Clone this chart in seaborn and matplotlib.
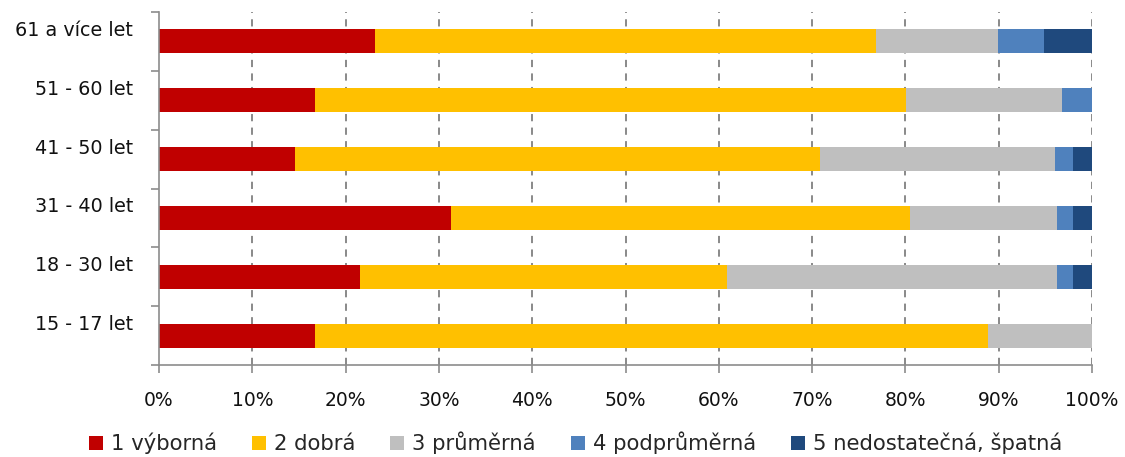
import numpy as np
import pandas as pd
import matplotlib
matplotlib.use("Agg")
import matplotlib.pyplot as plt
import matplotlib.transforms as mtransforms
from matplotlib.patches import Patch
import seaborn as sns

categories = ["61 a více let", "51 - 60 let", "41 - 50 let", "31 - 40 let", "18 - 30 let", "15 - 17 let"]
series_names = ["1 výborná", "2 dobrá", "3 průměrná", "4 podprůměrná", "5 nedostatečná, špatná"]
s1 = [23.1, 16.7, 14.6, 31.3, 21.5, 16.7]
s2 = [53.8, 63.4, 56.3, 49.2, 39.4, 72.2]
s3 = [13.0, 16.7, 25.1, 15.7, 35.3, 11.1]
s4 = [5.0, 3.2, 2.0, 1.8, 1.8, 0.0]
s5 = [5.1, 0.0, 2.0, 2.0, 2.0, 0.0]
colors = ["#C00000", "#FFC000", "#BFBFBF", "#4F81BD", "#1F497D"]
xticks = [0, 10, 20, 30, 40, 50, 60, 70, 80, 90, 100]
xticklabels = [f"{v}%" for v in xticks]

sns.set_theme(style="white")
plt.rcParams['font.family'] = ['DejaVu Sans']

data = np.array([s1, s2, s3, s4, s5], dtype=float)
totals = data.sum(axis=0)
pct = data / totals * 100
cum = np.cumsum(pct, axis=0)

fig = plt.figure(figsize=(11.25, 4.57), dpi=100)
ax = fig.add_axes([159/1125, 1 - 365/457, (1092 - 159)/1125, (365 - 12)/457])

for i in range(len(series_names) - 1, -1, -1):
    df = pd.DataFrame({"cat": categories, "val": cum[i]})
    sns.barplot(data=df, x="val", y="cat", order=categories, color=colors[i],
                width=0.41, ax=ax, orient="h", saturation=1, linewidth=0, zorder=3)

ax.set_xlim(0, 100)
ax.set_ylim(len(categories) - 0.5, -0.5)
ax.set_xlabel("")
ax.set_ylabel("")

ax.set_xticks(xticks)
ax.set_xticklabels(xticklabels, fontsize=13.5, color="#111111")
ax.tick_params(axis="x", which="major", direction="out", length=6, width=1.2,
               color="#8c8c8c", pad=12.5, bottom=True)

# y: labels at category centres, tick marks at boundaries
ax.set_yticks(range(len(categories)))
ax.set_yticklabels(categories, fontsize=13.8, color="#111111")
ax.tick_params(axis="y", which="major", length=0, pad=18.5)
ax.set_yticks(np.arange(-0.5, len(categories), 1.0), minor=True)
ax.tick_params(axis="y", which="minor", direction="out", length=6, width=1.2,
               color="#8c8c8c", left=True)
offset = mtransforms.ScaledTranslation(0, 13/100, fig.dpi_scale_trans)
for lab in ax.get_yticklabels():
    lab.set_transform(lab.get_transform() + offset)

for x in xticks[1:]:
    ax.axvline(x, color="#808080", linestyle=(0, (4, 3.5)), linewidth=1.3, zorder=1)

for side in ["top", "right"]:
    ax.spines[side].set_visible(False)
for side in ["left", "bottom"]:
    ax.spines[side].set_color("#8c8c8c")
    ax.spines[side].set_linewidth(1.2)
    ax.spines[side].set_zorder(4)

handles = [Patch(facecolor=c, edgecolor="none") for c in colors]
fig.legend(handles, series_names, loc="center", bbox_to_anchor=(575.5/1125, 1 - 443/457),
           ncol=5, frameon=False, fontsize=15.2, handlelength=0.66, handleheight=0.66,
           handletextpad=0.38, columnspacing=1.66, borderpad=0, borderaxespad=0)

fig.savefig("out.png", dpi=100)
